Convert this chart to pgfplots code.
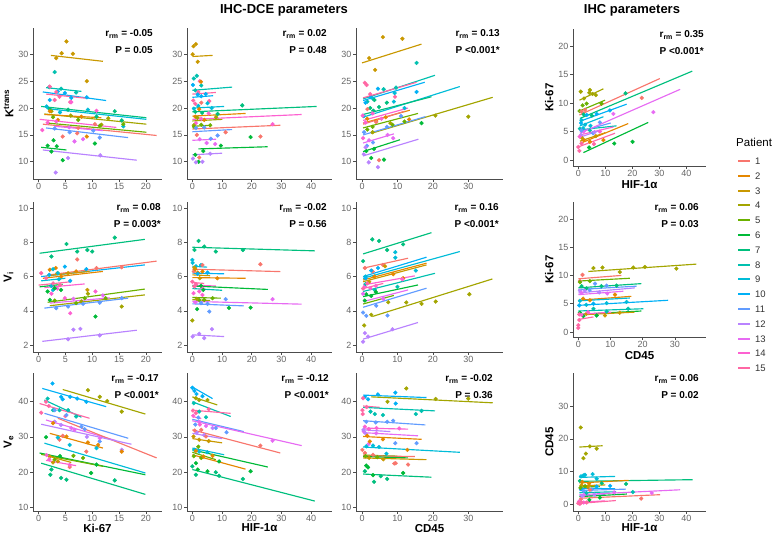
\documentclass[border=0pt]{standalone}
\usepackage{fontspec}
\setmainfont{Liberation Sans}
\usepackage{pgfplots}
\pgfplotsset{compat=1.18}
\usepackage{pgfplotstable}

% ggplot2 hue palette, 15 patients
\definecolor{c1}{HTML}{F8766D}
\definecolor{c2}{HTML}{E58700}
\definecolor{c3}{HTML}{C99800}
\definecolor{c4}{HTML}{A3A500}
\definecolor{c5}{HTML}{6BB100}
\definecolor{c6}{HTML}{00BA38}
\definecolor{c7}{HTML}{00BF7D}
\definecolor{c8}{HTML}{00C0AF}
\definecolor{c9}{HTML}{00BCD8}
\definecolor{c10}{HTML}{00B0F6}
\definecolor{c11}{HTML}{619CFF}
\definecolor{c12}{HTML}{B983FF}
\definecolor{c13}{HTML}{E76BF3}
\definecolor{c14}{HTML}{FD61D1}
\definecolor{c15}{HTML}{FF67A4}

\pgfplotsset{
  panel/.style={
    scale only axis, anchor=south west,
    axis x line*=bottom, axis y line*=left,
    axis line style={-, black!70, line width=0.7pt},
    tick align=outside, major tick length=2.8pt,
    tick style={black!70, line width=0.6pt},
    ticklabel style={font=\fontsize{9}{10}\selectfont, text=black!60, inner sep=1.5pt},
    /pgf/number format/assume math mode=true,
    xlabel style={font=\bfseries\fontsize{11.5}{12}\selectfont, inner sep=0pt, yshift=-2pt},
    ylabel style={font=\bfseries\fontsize{11.5}{12}\selectfont},
  },
  bottomrow/.style={xlabel style={yshift=1.5pt}},
  pts/.style={only marks, scatter, scatter src=explicit symbolic, mark=*, mark size=1.9pt,
    scatter/classes={
      1={mark=*,draw=c1,fill=c1},2={mark=*,draw=c2,fill=c2},3={mark=*,draw=c3,fill=c3},
      4={mark=*,draw=c4,fill=c4},5={mark=*,draw=c5,fill=c5},6={mark=*,draw=c6,fill=c6},
      7={mark=*,draw=c7,fill=c7},8={mark=*,draw=c8,fill=c8},9={mark=*,draw=c9,fill=c9},
      10={mark=*,draw=c10,fill=c10},11={mark=*,draw=c11,fill=c11},12={mark=*,draw=c12,fill=c12},
      13={mark=*,draw=c13,fill=c13},14={mark=*,draw=c14,fill=c14},15={mark=*,draw=c15,fill=c15}}},
}

% per-patient fitted line: patient, x1, y1, x2, y2
\newcommand\seg[5]{\addplot[color=c#1, line width=1.15pt, forget plot] coordinates {(#2,#3) (#4,#5)};}
% repeated-measures correlation label: r, P text, distance from right edge
\newcommand\stat[3]{%
  \node[anchor=east, inner sep=0pt, font=\bfseries\fontsize{10}{11}\selectfont]
    at ([xshift=-#3pt,yshift=-6pt]rel axis cs:1,1) {r\textsubscript{rm} = #1};
  \node[anchor=east, inner sep=0pt, font=\bfseries\fontsize{10}{11}\selectfont]
    at ([xshift=-#3pt,yshift=-22pt]rel axis cs:1,1) {P #2};}

% Ktrans vs Ki-67
\pgfplotstableread{
x y p
5.2 32.4 3
4.3 30.2 3
6.4 30.1 3
3.3 29.3 3
9.0 25.0 3
3.0 26.7 8
4.2 23.6 8
2.0 23.9 8
7.0 22.9 8
3.6 23.1 10
4.9 22.8 10
6.1 21.9 10
2.1 21.5 10
9.0 22.0 10
2.1 24.0 15
3.3 23.0 15
3.9 22.1 15
3.0 21.5 15
5.9 21.1 15
2.1 19.8 7
5.5 19.7 7
10.8 18.4 7
14.2 19.4 7
15.5 17.7 7
1.5 20.3 9
9.2 19.7 9
15.8 16.6 9
4.0 19.2 9
2.4 19.4 4
13.0 18.1 4
11.7 16.9 4
6.0 18.6 4
2.1 19.4 2
3.6 17.8 2
8.0 18.4 2
9.0 14.7 2
4.5 14.7 1
7.2 15.3 1
7.4 16.3 1
10.5 17.0 1
0.7 15.9 14
1.7 17.3 14
3.3 17.5 14
6.1 21.1 14
10.8 19.5 14
8.3 14.2 13
6.7 13.8 13
5.7 16.4 13
2.7 18.3 5
7.4 17.8 5
11.4 16.7 5
15.8 17.0 5
5.8 15.5 11
11.4 14.5 11
10.2 15.8 11
3.0 16.2 11
1.7 13.0 6
2.8 14.0 6
3.4 12.9 6
2.4 11.9 6
4.5 10.3 6
10.5 13.4 6
3.2 8.0 12
5.5 10.7 12
11.5 11.2 12
}\tA

% Ktrans vs HIF-1a
\pgfplotstableread{
x y p
0.1 30.0 3
0.4 31.5 3
1.2 31.9 3
1.8 28.6 3
0.5 25.5 8
1.5 26.0 8
1.0 23.3 8
3.0 24.2 8
0.3 21.4 15
1.0 20.8 15
2.5 25.0 15
5.7 21.3 15
2.0 23.0 15
0.2 24.3 10
1.8 22.5 10
3.0 22.2 10
4.5 22.6 10
2.0 20.4 9
5.1 20.9 9
6.5 20.0 9
0.5 19.9 9
16.8 20.5 7
1.0 19.3 7
3.3 19.1 7
8.5 18.9 7
2.3 19.8 2
2.9 24.9 2
1.0 18.4 2
4.0 17.8 2
1.2 17.2 14
3.0 18.0 14
27.0 17.0 14
5.5 19.0 14
1.7 18.2 4
0.5 16.8 4
8.0 18.3 4
0.6 16.5 5
3.0 16.9 5
6.0 16.8 5
2.3 10.8 1
11.2 15.5 1
22.9 14.7 1
3.0 21.0 1
1.5 15.0 1
1.2 16.3 11
4.0 16.4 11
6.2 14.3 11
8.5 14.9 11
7.7 13.3 13
2.5 14.2 13
4.8 13.5 13
2.1 10.0 6
3.7 12.0 6
9.6 13.0 6
19.6 14.6 6
1.0 11.3 6
1.2 9.9 12
3.4 10.0 12
0.2 10.6 12
6.0 11.5 12
}\tB

% Ktrans vs CD45
\pgfplotstableread{
x y p
5.9 33.2 3
11.4 32.9 3
2.0 29.3 3
3.7 27.1 3
15.4 28.4 8
6.1 23.5 8
9.6 23.8 8
1.5 21.2 8
4.5 23.6 10
15.4 23.0 10
1.0 21.0 10
2.5 22.0 10
0.8 24.7 15
1.3 24.3 15
2.3 22.6 15
9.3 22.1 15
9.2 22.8 9
9.0 21.2 9
0.5 18.5 9
3.0 21.8 9
12.0 20.0 9
3.5 21.5 7
2.3 20.0 7
3.2 19.5 7
4.8 20.2 7
7.0 21.0 7
0.2 18.6 14
0.3 14.4 14
5.5 18.0 14
1.0 17.3 14
3.0 19.0 14
6.7 18.3 2
13.3 17.9 2
1.5 18.0 2
4.0 17.6 2
3.0 16.5 5
8.6 16.9 5
1.5 16.0 5
12.0 17.5 5
30.0 18.4 4
20.7 18.6 4
3.0 15.5 4
8.0 17.2 4
1.4 13.0 11
3.1 13.6 11
0.6 15.5 11
11.0 18.5 11
7.0 16.5 11
4.8 10.3 1
4.0 17.4 1
1.5 19.8 1
2.6 10.7 6
6.2 10.4 6
3.4 12.4 6
16.8 17.2 6
1.2 12.0 6
7.2 15.0 13
8.8 14.4 13
2.0 14.0 13
0.5 11.4 12
1.9 9.9 12
4.5 9.0 12
1.0 12.7 12
}\tC

% Vi vs Ki-67
\pgfplotstableread{
x y p
5.2 7.9 7
14.2 8.27 7
7.2 7.46 7
9.1 7.55 7
10.0 7.46 7
2.4 7.17 7
7.2 7.0 1
15.5 6.54 1
10.8 6.49 1
4.9 6.58 10
8.9 6.43 10
5.9 5.75 10
2.0 6.1 10
2.1 6.4 2
3.2 6.5 2
4.2 6.0 2
7.0 6.3 2
9.1 5.22 3
3.5 6.2 3
5.5 6.2 3
2.7 6.43 9
3.6 6.2 9
3.8 5.84 9
2.4 5.45 9
2.7 5.22 9
0.5 6.2 15
1.4 5.9 15
2.7 5.6 15
4.0 5.5 15
2.4 5.0 14
4.9 4.74 14
10.6 5.13 14
5.9 3.86 14
3.5 5.3 14
2.1 4.64 6
3.0 5.32 6
4.2 5.22 6
1.7 5.13 6
10.6 3.67 6
8.6 4.74 5
12.5 4.74 5
7.0 4.45 5
3.0 4.6 5
9.2 5.0 4
15.5 4.25 4
8.0 4.55 4
6.5 4.7 13
12.0 4.9 13
3.3 4.16 11
5.5 4.25 11
8.3 4.41 11
11.4 4.48 11
15.5 4.74 11
6.5 2.9 12
7.8 2.95 12
5.5 2.34 12
11.4 2.57 12
}\tD

% Vi vs HIF-1a
\pgfplotstableread{
x y p
2.1 8.08 7
4.0 7.75 7
0.7 7.55 7
7.9 7.46 7
17.0 7.55 7
0.0 6.97 9
0.1 6.8 9
1.2 6.6 9
2.9 6.67 9
3.4 6.67 1
22.9 6.72 1
0.5 6.3 1
1.0 6.43 2
1.8 6.23 2
3.4 6.29 2
8.4 5.9 2
0.7 6.52 3
2.5 5.9 3
1.8 6.16 10
5.1 6.23 10
0.0 5.7 15
0.7 5.42 15
1.2 5.57 15
2.3 5.13 14
3.4 5.32 14
0.4 5.03 14
3.4 4.93 14
3.7 5.22 6
2.9 5.46 6
19.6 4.19 6
1.6 4.1 6
12.3 4.17 6
2.3 4.64 5
4.0 4.64 5
6.8 4.74 5
0.0 3.44 4
1.5 4.7 4
2.9 4.45 11
5.1 4.41 11
11.2 4.68 11
5.7 3.96 11
27.0 4.68 13
1.0 4.5 13
0.1 2.5 12
2.3 2.66 12
4.0 2.41 12
6.6 2.93 12
}\tE

% Vi vs CD45
\pgfplotstableread{
x y p
2.9 8.17 7
4.8 8.08 7
7.1 7.55 7
11.6 7.88 7
0.3 6.9 7
9.4 7.42 9
9.4 7.1 9
15.2 6.35 9
1.0 6.0 9
0.8 6.5 1
5.9 6.68 1
3.0 6.3 1
2.6 6.35 10
4.5 6.5 10
1.0 5.9 10
8.8 6.14 2
11.6 5.9 2
3.5 6.0 2
6.5 6.6 3
2.0 5.7 3
0.8 5.42 14
2.4 5.32 14
3.9 5.46 14
11.4 5.84 14
1.0 5.57 8
3.6 5.22 8
10.0 5.4 8
1.2 4.97 6
2.6 4.87 6
3.9 5.1 6
0.8 4.6 6
0.3 5.0 13
6.0 4.7 13
30.3 4.97 4
20.8 4.54 4
16.8 4.41 4
12.5 4.49 4
7.4 4.5 4
2.6 3.77 4
0.6 3.15 4
0.3 3.9 11
1.2 3.71 11
7.2 3.73 11
4.0 4.3 11
0.8 2.7 12
1.7 2.5 12
8.6 2.93 12
0.3 2.2 12
0.3 5.3 15
1.5 5.6 15
}\tF

% Ve vs Ki-67
\pgfplotstableread{
x y p
2.6 45.2 10
4.2 41.4 10
4.5 40.7 10
5.9 41.4 10
8.9 40.0 10
7.2 40.9 10
9.2 43.3 4
11.4 41.4 4
12.8 40.2 4
15.5 37.2 4
1.7 40.9 8
2.7 37.6 8
3.9 37.6 8
5.5 37.6 8
7.0 35.8 8
0.5 36.9 15
1.4 40.0 15
1.9 38.8 15
5.0 35.9 15
3.0 37.6 11
5.2 36.2 11
8.0 32.9 11
8.6 32.2 11
11.4 28.7 11
3.0 34.3 12
4.2 33.4 12
15.5 26.3 12
9.0 30.0 12
6.1 32.5 13
6.7 32.0 13
11.4 29.6 13
3.9 29.2 1
4.5 30.3 1
8.9 25.8 1
5.8 21.4 1
2.7 33.9 2
5.2 30.1 2
9.2 28.4 2
11.1 27.7 2
15.5 25.8 2
3.6 29.8 9
5.8 27.7 9
10.8 26.8 9
6.5 24.6 5
8.3 24.0 5
3.0 23.5 5
10.8 22.1 6
9.8 19.7 6
4.0 24.5 6
1.4 29.9 6
2.1 24.4 3
3.6 23.0 3
2.7 22.7 3
2.0 23.6 14
5.8 22.0 14
1.5 24.8 14
2.4 20.7 7
2.2 19.2 7
4.2 18.3 7
5.2 17.8 7
14.2 17.6 7
}\tG

% Ve vs HIF-1a
\pgfplotstableread{
x y p
0.0 44.0 10
0.7 43.1 10
1.4 42.2 10
3.4 41.6 10
1.2 41.0 4
5.1 40.5 4
2.3 40.5 4
0.5 39.6 8
2.3 37.2 8
4.6 35.6 8
0.2 37.5 15
1.2 36.8 15
5.5 37.9 15
7.9 32.5 11
2.0 35.5 11
1.0 33.5 11
11.5 31.3 11
2.3 34.3 13
4.6 33.1 13
27.0 28.9 13
6.8 32.5 12
1.5 31.2 12
4.0 30.5 12
0.8 31.8 1
4.6 30.1 1
22.9 27.5 1
3.0 32.0 1
0.4 30.1 3
2.3 29.2 3
5.5 28.8 3
0.7 26.3 9
2.3 25.8 9
5.0 25.6 9
0.5 24.5 5
3.0 24.0 5
2.0 27.2 5
3.7 24.4 2
6.8 24.6 2
1.2 26.0 2
1.2 22.5 6
1.8 20.7 6
5.1 20.2 6
19.6 20.2 6
9.0 23.0 6
1.2 19.2 7
7.9 19.9 7
9.0 18.9 7
0.0 21.6 7
17.0 18.0 7
0.3 36.0 14
2.5 33.5 14
}\tH

% Ve vs CD45
\pgfplotstableread{
x y p
0.8 41.4 10
1.7 40.7 10
4.5 42.1 10
9.4 42.6 10
9.5 39.5 10
12.5 43.8 4
7.2 40.0 4
20.8 40.8 4
30.0 40.9 4
2.4 37.2 8
3.6 36.5 8
5.9 36.2 8
15.2 36.5 8
16.8 37.4 8
0.1 37.6 15
0.3 41.0 15
1.3 38.5 15
0.2 36.5 15
1.2 34.3 11
3.9 34.1 11
7.1 34.3 11
8.8 34.6 11
9.4 28.2 11
15.4 28.2 11
0.8 32.9 14
1.9 32.2 14
4.1 32.5 14
10.5 32.4 14
1.9 28.0 13
0.5 31.5 13
4.0 31.0 13
1.0 31.0 12
0.4 32.0 12
2.2 28.7 2
5.9 29.3 2
12.8 26.3 2
1.5 30.3 2
1.2 27.3 9
3.1 27.5 9
4.8 27.1 9
6.9 25.2 9
0.1 26.3 1
0.8 25.4 1
3.1 24.9 1
9.1 22.4 1
9.5 22.5 1
13.0 22.1 1
1.2 21.8 6
1.7 21.3 6
3.1 19.1 6
11.6 19.7 6
5.3 18.8 7
7.1 18.0 7
3.4 17.2 7
0.8 20.2 7
1.0 24.5 5
4.3 24.2 5
2.0 24.0 3
6.0 23.6 3
}\tI

% Ki-67 vs HIF-1a
\pgfplotstableread{
x y p
0.9 12.0 4
2.1 10.8 4
4.1 11.8 4
4.3 12.3 4
5.3 11.6 4
6.5 11.4 4
1.6 9.6 5
3.1 9.9 5
8.6 9.9 5
0.5 8.6 5
17.5 11.7 7
2.0 8.0 7
5.0 7.8 7
23.5 10.9 1
1.2 8.5 1
2.5 8.8 1
3.1 7.9 10
6.8 8.1 10
11.7 8.7 10
1.0 6.5 10
27.8 8.4 13
13.0 8.1 13
2.0 5.0 13
1.2 7.0 9
2.5 6.2 9
1.8 5.6 9
4.5 6.0 9
0.6 5.5 8
4.3 5.2 8
1.2 5.2 11
5.5 4.7 11
8.0 6.6 11
4.3 3.2 2
9.3 3.5 2
2.0 3.5 2
6.5 4.2 3
1.5 3.8 3
0.0 2.3 15
0.4 1.6 15
1.2 2.9 15
5.8 2.8 15
4.0 2.2 6
13.3 2.9 6
20.1 3.2 6
1.0 4.4 12
6.0 4.9 12
0.5 4.1 14
8.0 5.0 14
}\tJ

% Ki-67 vs CD45
\pgfplotstableread{
x y p
4.7 11.3 4
7.5 11.4 4
12.9 10.6 4
17.1 11.4 4
20.7 11.5 4
30.5 11.2 4
1.3 10.1 1
0.5 9.0 1
3.6 9.0 5
0.5 8.8 5
1.0 8.1 7
2.5 7.7 7
7.2 8.1 7
11.9 8.2 7
5.2 8.55 11
8.8 8.2 11
3.5 7.4 11
0.5 7.3 12
2.0 7.3 12
6.5 7.0 12
1.0 6.9 13
9.0 6.8 13
1.5 5.9 2
3.6 5.6 2
11.4 6.6 2
0.5 5.5 9
2.5 4.8 9
8.8 5.1 9
15.0 5.3 9
4.7 5.0 10
0.3 4.7 10
4.7 4.1 8
15.5 4.1 8
8.8 3.6 8
1.6 2.8 6
5.7 2.9 6
0.5 3.4 6
8.3 2.9 3
12.9 3.4 3
2.5 3.2 3
0.3 2.1 15
0.0 1.2 15
0.3 3.1 15
0.0 0.7 15
1.0 3.0 14
3.0 3.5 14
}\tK

% CD45 vs HIF-1a
\pgfplotstableread{
x y p
0.9 23.5 4
1.9 14.1 4
2.8 15.5 4
4.3 17.7 4
6.8 17.0 4
1.0 8.5 9
1.9 8.8 9
2.5 9.0 9
5.3 9.2 9
6.8 7.8 9
0.6 7.1 7
8.7 6.4 7
17.7 6.2 7
1.5 6.8 2
4.0 6.3 2
11.8 5.6 10
6.8 5.4 10
1.0 4.6 10
2.0 4.0 11
5.0 4.5 11
1.2 5.8 3
3.5 5.3 3
0.8 5.0 5
2.5 5.5 5
20.2 3.7 8
3.0 3.4 8
23.3 1.7 1
4.3 4.4 1
1.0 1.5 1
27.2 3.4 13
13.3 3.6 13
2.0 2.8 13
1.5 2.5 12
6.0 2.9 12
4.1 1.3 6
8.0 2.0 6
0.3 0.8 14
2.0 0.5 14
0.0 0.3 15
0.6 0.1 15
1.2 0.5 15
3.1 0.5 15
}\tL

\begin{document}
\begin{tikzpicture}[x=1pt,y=1pt]
\useasboundingbox (0,0) rectangle (777,538);

\node[font=\bfseries\fontsize{13}{15}\selectfont] at (284,528) {IHC-DCE parameters};
\node[font=\bfseries\fontsize{13}{15}\selectfont] at (632,528) {IHC parameters};

% ---------- row 1: Ktrans ----------
\begin{axis}[panel, at={(33pt,359pt)}, width=129pt, height=151pt,
  xmin=-1.03, xmax=23, ymin=6.8, ymax=34.9, xtick={0,5,10,15,20}, ytick={10,15,20,25,30},
  ylabel={K\textsuperscript{trans}}]
\addplot[pts] table[x=x,y=y,meta=p]{\tA};
\seg{3}{2.3}{29.8}{12}{28.7}
\seg{8}{1.4}{23.8}{8}{23.1}
\seg{10}{0.8}{23.0}{12.6}{21.4}
\seg{15}{1.4}{22.6}{9.2}{21.8}
\seg{7}{0.5}{20.3}{20.1}{18.2}
\seg{9}{1.5}{19.9}{20.1}{17.9}
\seg{4}{1.1}{18.9}{20.1}{17.0}
\seg{2}{1.1}{18.8}{11.7}{18.2}
\seg{14}{0.2}{17.9}{14.5}{16.4}
\seg{5}{1.7}{17.2}{20.1}{15.5}
\seg{1}{0.8}{17.0}{22.0}{14.9}
\seg{13}{3.0}{16.6}{12.0}{15.8}
\seg{11}{1.4}{16.3}{16.7}{14.5}
\seg{6}{0.5}{12.7}{5.2}{12.2}
\seg{12}{0.8}{12.2}{18.3}{10.3}
\stat{-0.05}{= 0.05}{9}
\end{axis}

\begin{axis}[panel, at={(187pt,359pt)}, width=145pt, height=151pt,
  xmin=-1.8, xmax=47, ymin=6.8, ymax=34.9, xtick={0,10,20,30,40}, ytick={10,15,20,25,30}]
\addplot[pts] table[x=x,y=y,meta=p]{\tB};
\seg{3}{0.1}{29.6}{6.8}{29.8}
\seg{8}{0}{23.3}{13.4}{23.9}
\seg{15}{0}{22.6}{7.9}{22.9}
\seg{10}{0}{22.0}{7}{22.3}
\seg{9}{0}{20.0}{10.7}{20.3}
\seg{7}{0}{19.3}{41.8}{20.3}
\seg{2}{0}{18.5}{17.9}{19.0}
\seg{14}{0}{17.9}{36.8}{18.8}
\seg{4}{0}{17.6}{10.1}{17.9}
\seg{5}{0}{16.6}{6.2}{16.8}
\seg{1}{0}{16.1}{29.6}{16.8}
\seg{11}{0}{15.6}{13.4}{16.0}
\seg{13}{0}{14.0}{8}{14.2}
\seg{6}{2.0}{12.4}{25.3}{12.8}
\seg{12}{0}{11.3}{10}{11.6}
\stat{0.02}{= 0.48}{5}
\end{axis}

\begin{axis}[panel, at={(356pt,359pt)}, width=147pt, height=151pt,
  xmin=-1.7, xmax=39.8, ymin=6.8, ymax=34.9, xtick={0,10,20,30}, ytick={10,15,20,25,30}]
\addplot[pts] table[x=x,y=y,meta=p]{\tC};
\seg{3}{0}{28.4}{16.8}{31.9}
\seg{8}{0.3}{21.7}{20.6}{26.1}
\seg{10}{0.3}{21.4}{17.7}{24.8}
\seg{15}{0.3}{21.9}{15.4}{24.8}
\seg{9}{0.3}{18.3}{27.6}{24.0}
\seg{7}{0.3}{18.8}{19.6}{22.1}
\seg{14}{0.3}{17.7}{13}{20.0}
\seg{2}{0.3}{17.2}{13.5}{19.6}
\seg{5}{0.3}{16.3}{15.8}{19.0}
\seg{4}{2.6}{15.3}{36.9}{22.0}
\seg{11}{0.3}{15.0}{17.9}{18.4}
\seg{1}{0.3}{17.0}{12}{19.4}
\seg{13}{0.3}{13.5}{9}{15.2}
\seg{6}{0.3}{11.9}{10.7}{14.1}
\seg{12}{0.3}{11.1}{15.9}{14.2}
\stat{0.13}{<0.001*}{3}
\end{axis}

% ---------- row 2: Vi ----------
\begin{axis}[panel, at={(33pt,186pt)}, width=129pt, height=150pt,
  xmin=-1.03, xmax=23, ymin=1.6, ymax=10.35, xtick={0,5,10,15,20}, ytick={2,4,6,8,10},
  ylabel={V\textsubscript{i}}]
\addplot[pts] table[x=x,y=y,meta=p]{\tD};
\seg{7}{0.2}{7.36}{19.8}{8.17}
\seg{10}{0.5}{6.0}{19.8}{6.68}
\seg{1}{2.0}{6.1}{22.0}{6.9}
\seg{2}{0.8}{5.9}{12}{6.3}
\seg{3}{1.5}{6.05}{9.5}{6.3}
\seg{9}{0.5}{5.75}{5.0}{5.9}
\seg{15}{0}{5.5}{6.1}{5.7}
\seg{14}{1.1}{5.36}{8.6}{5.57}
\seg{6}{0.2}{5.4}{4.5}{5.55}
\seg{5}{1.7}{4.5}{19.8}{5.27}
\seg{4}{2.1}{4.3}{19.8}{4.93}
\seg{13}{2.1}{4.45}{13.3}{4.76}
\seg{11}{1.1}{4.16}{16.7}{4.74}
\seg{12}{0.7}{2.22}{18.3}{2.87}
\stat{0.08}{= 0.003*}{1}
\end{axis}

\begin{axis}[panel, at={(187pt,186pt)}, width=145pt, height=150pt,
  xmin=-1.8, xmax=47, ymin=1.6, ymax=10.35, xtick={0,10,20,30,40}, ytick={2,4,6,8,10}]
\addplot[pts] table[x=x,y=y,meta=p]{\tE};
\seg{7}{0}{7.71}{41.2}{7.5}
\seg{9}{0}{6.6}{5}{6.55}
\seg{1}{0}{6.43}{29.6}{6.29}
\seg{10}{0}{6.2}{10.7}{6.16}
\seg{3}{0}{6.1}{6}{6.05}
\seg{2}{0}{5.94}{17.9}{5.9}
\seg{15}{0}{5.65}{4}{5.6}
\seg{14}{0}{5.5}{7.9}{5.45}
\seg{6}{0}{5.45}{25.4}{5.25}
\seg{8}{0}{5.3}{10}{5.2}
\seg{5}{0}{4.78}{9.6}{4.74}
\seg{4}{0}{4.65}{6}{4.6}
\seg{13}{0}{4.55}{36.8}{4.39}
\seg{11}{0}{4.41}{17.3}{4.29}
\seg{12}{0}{2.6}{10.7}{2.5}
\stat{-0.02}{= 0.56}{5}
\end{axis}

\begin{axis}[panel, at={(356pt,186pt)}, width=147pt, height=150pt,
  xmin=-1.7, xmax=39.8, ymin=1.6, ymax=10.35, xtick={0,10,20,30}, ytick={2,4,6,8,10}]
\addplot[pts] table[x=x,y=y,meta=p]{\tF};
\seg{7}{0.3}{7.32}{19.6}{8.56}
\seg{1}{0.3}{6.49}{13}{7.07}
\seg{10}{0.3}{6.0}{18.2}{7.13}
\seg{9}{0.3}{5.9}{27.6}{7.46}
\seg{2}{0.3}{5.8}{18.2}{6.78}
\seg{3}{0.3}{5.7}{18.2}{6.68}
\seg{14}{0.3}{5.51}{14.9}{6.04}
\seg{15}{0.3}{5.3}{6}{5.6}
\seg{8}{0.3}{5.13}{20.6}{6.19}
\seg{6}{0.3}{4.83}{15.8}{5.51}
\seg{13}{0.3}{4.54}{13}{5.22}
\seg{5}{0.3}{4.4}{9}{4.9}
\seg{11}{0.3}{4.21}{18.2}{5.32}
\seg{4}{2.9}{3.67}{36.8}{5.86}
\seg{12}{0.3}{2.35}{15.8}{3.32}
\stat{0.16}{<0.001*}{4}
\end{axis}

% ---------- row 3: Ve ----------
\begin{axis}[panel, bottomrow, at={(33pt,27pt)}, width=129pt, height=138pt,
  xmin=-1.03, xmax=23, ymin=8.87, ymax=48.2, xtick={0,5,10,15,20}, ytick={10,20,30,40},
  ylabel={V\textsubscript{e}}, xlabel={Ki-67}]
\addplot[pts] table[x=x,y=y,meta=p]{\tG};
\seg{10}{0.7}{43.8}{12.6}{38.6}
\seg{4}{4.5}{43.5}{19.9}{36.5}
\seg{8}{1.1}{40.5}{8.0}{35.6}
\seg{15}{0.2}{39.5}{9.5}{35.3}
\seg{11}{1.1}{36.7}{16.7}{29.6}
\seg{13}{1.4}{34.8}{14.5}{28.9}
\seg{1}{3.6}{35.3}{22.0}{24.0}
\seg{12}{0.5}{33.6}{17.3}{27.9}
\seg{2}{2.1}{31.0}{12.0}{26.8}
\seg{9}{1.1}{28.2}{19.9}{19.7}
\seg{6}{0.2}{25.4}{19.9}{19.2}
\seg{5}{0.5}{25.0}{12}{21.6}
\seg{3}{2.1}{24.4}{6.1}{22.7}
\seg{14}{1.4}{23.3}{7.0}{21.8}
\seg{7}{0.5}{22.5}{19.9}{13.6}
\stat{-0.17}{<0.001*}{3}
\end{axis}

\begin{axis}[panel, bottomrow, at={(187pt,27pt)}, width=145pt, height=138pt,
  xmin=-1.8, xmax=47, ymin=8.87, ymax=48.2, xtick={0,10,20,30,40}, ytick={10,20,30,40},
  xlabel={HIF-1α}]
\addplot[pts] table[x=x,y=y,meta=p]{\tH};
\seg{10}{0}{44.2}{6.8}{40.9}
\seg{4}{0}{41.4}{8.4}{39.1}
\seg{8}{0}{40.0}{12.9}{35.8}
\seg{15}{0}{37.6}{12.9}{36.7}
\seg{11}{0}{35.0}{17.3}{31.5}
\seg{13}{0}{34.6}{36.8}{27.5}
\seg{1}{0}{32.0}{29.6}{25.4}
\seg{12}{0}{31.0}{10}{29.5}
\seg{3}{0}{29.5}{10}{28.3}
\seg{9}{0}{26.8}{10.7}{24.9}
\seg{6}{0}{26.3}{25.4}{21.4}
\seg{5}{0}{25.6}{7.9}{23.5}
\seg{2}{0}{24.9}{17.9}{20.8}
\seg{7}{0}{20.7}{41.2}{11.7}
\seg{14}{0}{35.8}{3}{35.2}
\stat{-0.12}{<0.001*}{3}
\end{axis}

\begin{axis}[panel, bottomrow, at={(356pt,27pt)}, width=147pt, height=138pt,
  xmin=-1.7, xmax=39.8, ymin=8.87, ymax=48.2, xtick={0,10,20,30}, ytick={10,20,30,40},
  xlabel={CD45}]
\addplot[pts] table[x=x,y=y,meta=p]{\tI};
\seg{10}{0.3}{41.9}{18.2}{41.2}
\seg{4}{2.6}{41.4}{36.9}{39.7}
\seg{15}{0.3}{38.8}{5.0}{38.4}
\seg{8}{0.3}{38.4}{20.6}{37.4}
\seg{11}{0.3}{34.6}{17.9}{33.4}
\seg{14}{0.3}{32.5}{13.0}{32.2}
\seg{12}{0.3}{32.0}{8}{31.5}
\seg{13}{0.3}{31.2}{15.8}{30.3}
\seg{2}{0.3}{30.1}{16.8}{29.3}
\seg{9}{0.3}{27.1}{27.6}{25.6}
\seg{5}{0.3}{24.8}{10.0}{24.5}
\seg{1}{0.3}{24.6}{14.9}{24.4}
\seg{6}{0.3}{24.4}{13.0}{24.0}
\seg{3}{0.3}{24.0}{18.2}{23.5}
\seg{7}{0.3}{19.4}{19.6}{18.5}
\stat{-0.02}{= 0.36}{10}
\end{axis}

% ---------- right column: IHC ----------
\begin{axis}[panel, at={(573pt,372pt)}, width=133pt, height=137pt,
  xmin=-1.96, xmax=47.3, ymin=-1.05, ymax=23, xtick={0,10,20,30,40}, ytick={0,5,10,15,20},
  xlabel={HIF-1α}, ylabel={Ki-67}]
\addplot[pts] table[x=x,y=y,meta=p]{\tJ};
\seg{4}{0.4}{10.5}{9.3}{12.5}
\seg{1}{0.4}{7.9}{30.2}{14.3}
\seg{5}{0.4}{8.6}{9.9}{10.5}
\seg{7}{0.6}{7.3}{42.2}{15.6}
\seg{10}{0.6}{6.8}{17.9}{9.8}
\seg{9}{0.6}{6.0}{9.3}{7.6}
\seg{8}{0.6}{5.3}{14.2}{6.0}
\seg{11}{0.6}{5.0}{12.0}{6.5}
\seg{13}{0.6}{4.7}{37.7}{12.4}
\seg{14}{0.6}{4.4}{13.0}{5.8}
\seg{12}{0.6}{4.0}{8}{5.2}
\seg{3}{0.6}{3.3}{10}{4.8}
\seg{2}{0.6}{2.9}{18.5}{6.4}
\seg{15}{0.0}{2.3}{13.6}{4.7}
\seg{6}{1.9}{1.3}{25.9}{6.6}
\stat{0.35}{<0.001*}{2}
\end{axis}

\begin{axis}[panel, at={(573pt,201pt)}, width=133pt, height=135pt,
  xmin=-1.65, xmax=39.7, ymin=-0.9, ymax=23, xtick={0,10,20,30}, ytick={0,5,10,15,20},
  xlabel={CD45}, ylabel={Ki-67}]
\addplot[pts] table[x=x,y=y,meta=p]{\tK};
\seg{4}{3.1}{10.7}{36.7}{12.0}
\seg{1}{0}{9.4}{13.4}{10.0}
\seg{5}{0}{9.0}{16}{9.5}
\seg{7}{0}{7.8}{19.6}{8.55}
\seg{11}{0}{7.5}{18.1}{8.1}
\seg{12}{0}{6.9}{17.6}{7.8}
\seg{13}{0}{6.6}{14}{7.2}
\seg{2}{0}{5.6}{16.5}{6.3}
\seg{9}{0}{5.5}{16}{6.0}
\seg{10}{0}{4.7}{27.9}{5.6}
\seg{8}{0}{3.7}{20.2}{4.1}
\seg{6}{0}{3.1}{19.6}{3.7}
\seg{3}{0}{3.0}{17.5}{3.5}
\seg{14}{0}{3.1}{10.3}{3.5}
\seg{15}{0}{2.2}{4.7}{2.65}
\stat{0.06}{= 0.03}{7}
\end{axis}

\begin{axis}[panel, bottomrow, at={(573pt,27pt)}, width=133pt, height=138pt,
  xmin=-1.96, xmax=47.3, ymin=-2.1, ymax=40.2, xtick={0,10,20,30,40}, ytick={0,10,20,30},
  xlabel={HIF-1α}, ylabel={CD45}]
\addplot[pts] table[x=x,y=y,meta=p]{\tL};
\seg{4}{0.4}{17.5}{9.0}{17.9}
\seg{9}{0.4}{8.2}{13.6}{8.5}
\seg{7}{0.4}{7.0}{42.3}{7.5}
\seg{2}{0.4}{6.5}{18.6}{7.3}
\seg{3}{0.4}{5.6}{10}{5.9}
\seg{5}{0.4}{5.2}{8}{5.4}
\seg{10}{0.4}{4.9}{13.6}{4.7}
\seg{11}{0.4}{4.2}{17.6}{4.6}
\seg{8}{0.4}{3.5}{14}{3.8}
\seg{13}{0.4}{2.9}{37.7}{4.4}
\seg{12}{0.4}{2.6}{10}{2.9}
\seg{6}{0.4}{2.3}{18}{3.1}
\seg{1}{0.4}{1.8}{30.3}{2.9}
\seg{14}{0.4}{0.6}{10}{1.0}
\seg{15}{0.0}{0.2}{13.9}{1.1}
\stat{0.06}{= 0.02}{7}
\end{axis}

% ---------- legend ----------
\node[anchor=west, inner sep=0pt, font=\fontsize{11.5}{12}\selectfont] at (736,396) {Patient};
\foreach \i in {1,...,15} {
  \pgfmathsetmacro\ly{round(377-(\i-1)*14.8)}
  \fill[color=c\i] (738,\ly-1) rectangle (750,\ly+1);
  \node[anchor=west, inner sep=0pt, text=black!80, font=\fontsize{9.5}{10}\selectfont]
    at (755,\ly) {\i};
}
\end{tikzpicture}
\end{document}
